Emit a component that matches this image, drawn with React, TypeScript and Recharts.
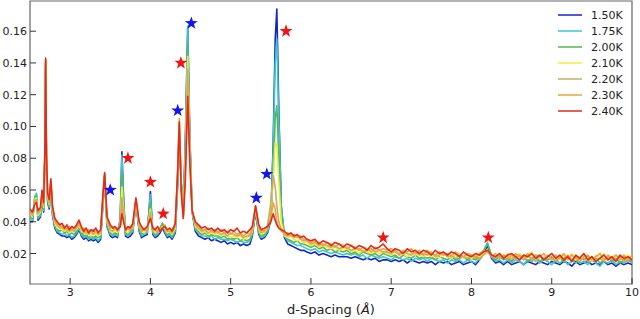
import React from "react"
import {
  ComposedChart,
  Line,
  Scatter,
  XAxis,
  YAxis,
  ReferenceArea,
  Label,
} from "recharts"

// d-spacing (Å) sample positions
const dSpacing = [
  2.5, 2.53, 2.56, 2.58, 2.6, 2.63, 2.65, 2.67, 2.685, 2.695,
  2.705, 2.72, 2.74, 2.76, 2.78, 2.81, 2.84, 2.87, 2.9, 2.93,
  2.96, 2.99, 3.02, 3.05, 3.08, 3.11, 3.14, 3.17, 3.2, 3.23,
  3.26, 3.29, 3.32, 3.35, 3.38, 3.41, 3.43, 3.46, 3.5, 3.53,
  3.56, 3.59, 3.625, 3.645, 3.665, 3.69, 3.72, 3.75, 3.78, 3.82,
  3.86, 3.89, 3.92, 3.96, 4.0, 4.03, 4.06, 4.09, 4.12, 4.15,
  4.18, 4.21, 4.24, 4.27, 4.31, 4.34, 4.36, 4.385, 4.41, 4.435,
  4.465, 4.49, 4.52, 4.56, 4.6, 4.64, 4.68, 4.72, 4.76, 4.8,
  4.84, 4.88, 4.92, 4.96, 5.0, 5.04, 5.08, 5.12, 5.16, 5.2,
  5.24, 5.27, 5.31, 5.35, 5.38, 5.42, 5.46, 5.5, 5.53, 5.555,
  5.575, 5.6, 5.63, 5.67, 5.71, 5.75, 5.79, 5.83, 5.87, 5.91,
  5.95, 6.0, 6.05, 6.1, 6.15, 6.2, 6.25, 6.3, 6.35, 6.4,
  6.45, 6.5, 6.55, 6.6, 6.65, 6.7, 6.75, 6.8, 6.85, 6.9,
  6.95, 7.0, 7.05, 7.1, 7.15, 7.2, 7.25, 7.3, 7.35, 7.4,
  7.45, 7.5, 7.55, 7.6, 7.65, 7.7, 7.75, 7.8, 7.85, 7.9,
  7.95, 8.0, 8.05, 8.1, 8.15, 8.2, 8.25, 8.3, 8.35, 8.4,
  8.45, 8.5, 8.55, 8.6, 8.65, 8.7, 8.75, 8.8, 8.85, 8.9,
  8.95, 9.0, 9.05, 9.1, 9.15, 9.2, 9.25, 9.3, 9.35, 9.4,
  9.45, 9.5, 9.55, 9.6, 9.65, 9.7, 9.75, 9.8, 9.85, 9.9,
  9.95, 10.0,
]

const t150 = [
  0.040, 0.040, 0.055, 0.057, 0.041, 0.043, 0.054, 0.046, 0.078, 0.138,
  0.075, 0.052, 0.048, 0.063, 0.044, 0.036, 0.033, 0.032, 0.031, 0.031,
  0.030, 0.031, 0.029, 0.030, 0.032, 0.035, 0.031, 0.029, 0.030, 0.028,
  0.029, 0.028, 0.029, 0.027, 0.029, 0.052, 0.068, 0.037, 0.031, 0.030,
  0.031, 0.030, 0.043, 0.084, 0.056, 0.031, 0.030, 0.031, 0.033, 0.052,
  0.034, 0.030, 0.031, 0.032, 0.059, 0.032, 0.030, 0.031, 0.033, 0.036,
  0.033, 0.030, 0.031, 0.029, 0.033, 0.064, 0.092, 0.064, 0.048, 0.090,
  0.162, 0.096, 0.046, 0.034, 0.031, 0.030, 0.029, 0.030, 0.028, 0.029,
  0.028, 0.027, 0.028, 0.026, 0.027, 0.026, 0.027, 0.025, 0.026, 0.025,
  0.026, 0.031, 0.046, 0.032, 0.029, 0.030, 0.033, 0.041, 0.090, 0.155,
  0.174, 0.110, 0.050, 0.030, 0.026, 0.025, 0.024, 0.023, 0.022, 0.022,
  0.021, 0.020, 0.021, 0.019, 0.020, 0.019, 0.018, 0.019, 0.018, 0.018,
  0.018, 0.017, 0.018, 0.017, 0.016, 0.017, 0.016, 0.017, 0.015, 0.016,
  0.016, 0.015, 0.016, 0.015, 0.016, 0.014, 0.016, 0.015, 0.014, 0.015,
  0.014, 0.015, 0.013, 0.015, 0.014, 0.015, 0.013, 0.014, 0.015, 0.013,
  0.014, 0.015, 0.013, 0.016, 0.020, 0.025, 0.017, 0.014, 0.015, 0.013,
  0.015, 0.013, 0.014, 0.015, 0.013, 0.015, 0.014, 0.013, 0.015, 0.014,
  0.013, 0.015, 0.014, 0.013, 0.015, 0.014, 0.012, 0.015, 0.013, 0.014,
  0.015, 0.013, 0.014, 0.013, 0.015, 0.013, 0.014, 0.012, 0.014, 0.013,
  0.014, 0.013,
]

const t175 = [
  0.042, 0.041, 0.056, 0.058, 0.042, 0.044, 0.055, 0.047, 0.079, 0.140,
  0.076, 0.053, 0.049, 0.064, 0.045, 0.037, 0.034, 0.033, 0.032, 0.033,
  0.031, 0.032, 0.030, 0.031, 0.033, 0.036, 0.032, 0.030, 0.031, 0.029,
  0.030, 0.029, 0.030, 0.028, 0.030, 0.053, 0.068, 0.038, 0.032, 0.031,
  0.032, 0.031, 0.042, 0.082, 0.055, 0.032, 0.031, 0.033, 0.034, 0.052,
  0.035, 0.031, 0.032, 0.033, 0.057, 0.033, 0.031, 0.032, 0.036, 0.039,
  0.034, 0.031, 0.032, 0.030, 0.034, 0.066, 0.095, 0.064, 0.047, 0.088,
  0.163, 0.095, 0.047, 0.035, 0.033, 0.031, 0.031, 0.030, 0.031, 0.029,
  0.030, 0.029, 0.029, 0.028, 0.029, 0.028, 0.027, 0.028, 0.027, 0.027,
  0.028, 0.032, 0.047, 0.033, 0.030, 0.031, 0.034, 0.042, 0.085, 0.140,
  0.155, 0.105, 0.050, 0.031, 0.028, 0.027, 0.026, 0.025, 0.025, 0.024,
  0.023, 0.022, 0.023, 0.021, 0.022, 0.021, 0.020, 0.021, 0.020, 0.019,
  0.020, 0.019, 0.020, 0.018, 0.019, 0.017, 0.019, 0.018, 0.017, 0.018,
  0.017, 0.016, 0.018, 0.017, 0.016, 0.017, 0.015, 0.017, 0.016, 0.017,
  0.015, 0.017, 0.016, 0.015, 0.016, 0.014, 0.016, 0.015, 0.016, 0.014,
  0.016, 0.015, 0.014, 0.017, 0.021, 0.027, 0.018, 0.015, 0.016, 0.014,
  0.016, 0.014, 0.016, 0.015, 0.013, 0.016, 0.015, 0.017, 0.014, 0.016,
  0.015, 0.013, 0.016, 0.014, 0.016, 0.013, 0.015, 0.016, 0.014, 0.015,
  0.013, 0.016, 0.014, 0.012, 0.015, 0.014, 0.016, 0.013, 0.015, 0.014,
  0.016, 0.014,
]

const t200 = [
  0.044, 0.042, 0.055, 0.056, 0.043, 0.045, 0.056, 0.048, 0.080, 0.140,
  0.077, 0.054, 0.050, 0.064, 0.046, 0.038, 0.035, 0.034, 0.035, 0.033,
  0.034, 0.032, 0.033, 0.032, 0.034, 0.037, 0.034, 0.031, 0.032, 0.030,
  0.031, 0.030, 0.031, 0.030, 0.031, 0.054, 0.069, 0.039, 0.033, 0.032,
  0.033, 0.032, 0.040, 0.072, 0.052, 0.033, 0.032, 0.034, 0.035, 0.053,
  0.036, 0.032, 0.033, 0.034, 0.052, 0.034, 0.032, 0.033, 0.036, 0.039,
  0.035, 0.032, 0.033, 0.031, 0.035, 0.068, 0.098, 0.063, 0.046, 0.082,
  0.152, 0.092, 0.047, 0.036, 0.034, 0.032, 0.033, 0.031, 0.032, 0.031,
  0.031, 0.030, 0.031, 0.029, 0.030, 0.029, 0.030, 0.028, 0.029, 0.028,
  0.029, 0.033, 0.048, 0.034, 0.031, 0.032, 0.035, 0.045, 0.070, 0.105,
  0.113, 0.080, 0.045, 0.031, 0.029, 0.028, 0.027, 0.028, 0.026, 0.026,
  0.025, 0.024, 0.025, 0.023, 0.024, 0.022, 0.023, 0.021, 0.022, 0.021,
  0.022, 0.020, 0.021, 0.019, 0.021, 0.020, 0.019, 0.020, 0.018, 0.020,
  0.019, 0.018, 0.019, 0.017, 0.019, 0.018, 0.017, 0.019, 0.017, 0.018,
  0.017, 0.018, 0.016, 0.018, 0.017, 0.016, 0.018, 0.016, 0.017, 0.018,
  0.016, 0.017, 0.016, 0.018, 0.022, 0.026, 0.019, 0.016, 0.018, 0.016,
  0.017, 0.015, 0.018, 0.016, 0.018, 0.015, 0.017, 0.019, 0.015, 0.017,
  0.016, 0.018, 0.015, 0.017, 0.015, 0.018, 0.016, 0.014, 0.017, 0.016,
  0.018, 0.015, 0.017, 0.014, 0.016, 0.018, 0.015, 0.017, 0.014, 0.016,
  0.017, 0.015,
]

const t210 = [
  0.045, 0.043, 0.054, 0.055, 0.044, 0.046, 0.057, 0.049, 0.081, 0.141,
  0.078, 0.055, 0.051, 0.065, 0.047, 0.039, 0.036, 0.037, 0.035, 0.034,
  0.035, 0.033, 0.034, 0.035, 0.035, 0.038, 0.034, 0.033, 0.032, 0.033,
  0.031, 0.033, 0.032, 0.031, 0.032, 0.055, 0.069, 0.040, 0.034, 0.033,
  0.035, 0.033, 0.038, 0.062, 0.048, 0.034, 0.033, 0.035, 0.036, 0.053,
  0.037, 0.034, 0.033, 0.035, 0.048, 0.035, 0.033, 0.034, 0.035, 0.037,
  0.036, 0.033, 0.034, 0.032, 0.036, 0.070, 0.100, 0.062, 0.045, 0.078,
  0.144, 0.088, 0.047, 0.037, 0.035, 0.033, 0.034, 0.032, 0.033, 0.032,
  0.033, 0.031, 0.032, 0.031, 0.030, 0.031, 0.030, 0.031, 0.029, 0.030,
  0.031, 0.034, 0.049, 0.035, 0.032, 0.033, 0.036, 0.050, 0.065, 0.090,
  0.088, 0.065, 0.040, 0.031, 0.030, 0.031, 0.029, 0.028, 0.029, 0.027,
  0.027, 0.025, 0.026, 0.024, 0.025, 0.024, 0.023, 0.024, 0.022, 0.023,
  0.023, 0.021, 0.022, 0.020, 0.022, 0.021, 0.020, 0.022, 0.020, 0.021,
  0.020, 0.019, 0.021, 0.019, 0.020, 0.018, 0.020, 0.019, 0.021, 0.018,
  0.020, 0.018, 0.019, 0.017, 0.020, 0.018, 0.017, 0.019, 0.020, 0.017,
  0.019, 0.017, 0.019, 0.018, 0.020, 0.022, 0.019, 0.018, 0.020, 0.017,
  0.020, 0.017, 0.018, 0.020, 0.017, 0.019, 0.021, 0.017, 0.019, 0.016,
  0.018, 0.020, 0.017, 0.016, 0.019, 0.017, 0.020, 0.016, 0.018, 0.019,
  0.017, 0.015, 0.019, 0.017, 0.020, 0.016, 0.018, 0.019, 0.016, 0.018,
  0.019, 0.017,
]

const t220 = [
  0.046, 0.044, 0.053, 0.054, 0.045, 0.047, 0.058, 0.050, 0.082, 0.142,
  0.079, 0.056, 0.052, 0.065, 0.048, 0.040, 0.038, 0.036, 0.037, 0.035,
  0.036, 0.034, 0.035, 0.034, 0.036, 0.039, 0.036, 0.033, 0.034, 0.032,
  0.034, 0.032, 0.034, 0.032, 0.033, 0.056, 0.070, 0.041, 0.035, 0.034,
  0.036, 0.034, 0.037, 0.055, 0.045, 0.034, 0.036, 0.034, 0.037, 0.054,
  0.038, 0.034, 0.035, 0.034, 0.046, 0.034, 0.035, 0.033, 0.034, 0.036,
  0.037, 0.034, 0.034, 0.033, 0.037, 0.072, 0.102, 0.061, 0.044, 0.074,
  0.136, 0.085, 0.047, 0.038, 0.036, 0.034, 0.035, 0.033, 0.034, 0.033,
  0.034, 0.032, 0.033, 0.031, 0.033, 0.032, 0.031, 0.032, 0.030, 0.031,
  0.031, 0.035, 0.049, 0.036, 0.033, 0.034, 0.038, 0.052, 0.069, 0.062,
  0.050, 0.040, 0.035, 0.032, 0.031, 0.032, 0.030, 0.031, 0.029, 0.028,
  0.028, 0.026, 0.027, 0.025, 0.026, 0.025, 0.024, 0.025, 0.023, 0.024,
  0.024, 0.022, 0.023, 0.023, 0.021, 0.022, 0.023, 0.021, 0.022, 0.021,
  0.021, 0.020, 0.022, 0.019, 0.021, 0.020, 0.019, 0.021, 0.019, 0.020,
  0.019, 0.021, 0.018, 0.019, 0.020, 0.018, 0.019, 0.017, 0.019, 0.018,
  0.017, 0.019, 0.018, 0.016, 0.019, 0.021, 0.019, 0.017, 0.019, 0.018,
  0.016, 0.019, 0.017, 0.019, 0.016, 0.018, 0.017, 0.015, 0.018, 0.017,
  0.019, 0.017, 0.015, 0.018, 0.017, 0.019, 0.016, 0.018, 0.016, 0.017,
  0.015, 0.018, 0.016, 0.017, 0.015, 0.019, 0.017, 0.016, 0.018, 0.015,
  0.017, 0.016,
]

const t230 = [
  0.047, 0.045, 0.052, 0.053, 0.046, 0.048, 0.059, 0.051, 0.083, 0.142,
  0.080, 0.057, 0.053, 0.066, 0.049, 0.041, 0.038, 0.039, 0.036, 0.037,
  0.035, 0.037, 0.035, 0.036, 0.037, 0.040, 0.035, 0.036, 0.033, 0.035,
  0.033, 0.035, 0.033, 0.034, 0.034, 0.057, 0.070, 0.042, 0.036, 0.037,
  0.035, 0.036, 0.037, 0.050, 0.043, 0.036, 0.035, 0.037, 0.038, 0.054,
  0.039, 0.035, 0.036, 0.035, 0.044, 0.035, 0.036, 0.034, 0.035, 0.036,
  0.038, 0.034, 0.035, 0.035, 0.038, 0.073, 0.105, 0.060, 0.043, 0.070,
  0.128, 0.082, 0.047, 0.039, 0.037, 0.035, 0.035, 0.036, 0.034, 0.035,
  0.033, 0.035, 0.033, 0.034, 0.032, 0.034, 0.032, 0.033, 0.031, 0.033,
  0.032, 0.036, 0.050, 0.037, 0.034, 0.035, 0.036, 0.042, 0.052, 0.048,
  0.040, 0.036, 0.034, 0.033, 0.033, 0.031, 0.032, 0.030, 0.031, 0.029,
  0.029, 0.027, 0.028, 0.027, 0.025, 0.027, 0.026, 0.024, 0.026, 0.025,
  0.023, 0.025, 0.024, 0.022, 0.024, 0.023, 0.021, 0.024, 0.022, 0.023,
  0.022, 0.023, 0.021, 0.020, 0.022, 0.021, 0.023, 0.020, 0.022, 0.019,
  0.022, 0.020, 0.019, 0.021, 0.019, 0.020, 0.018, 0.021, 0.019, 0.018,
  0.020, 0.019, 0.017, 0.020, 0.022, 0.021, 0.018, 0.020, 0.017, 0.019,
  0.018, 0.016, 0.020, 0.018, 0.017, 0.020, 0.016, 0.019, 0.018, 0.020,
  0.017, 0.016, 0.019, 0.017, 0.020, 0.016, 0.019, 0.017, 0.015, 0.018,
  0.019, 0.016, 0.018, 0.020, 0.016, 0.018, 0.016, 0.019, 0.016, 0.019,
  0.015, 0.019,
]

const t240 = [
  0.048, 0.046, 0.051, 0.052, 0.047, 0.049, 0.060, 0.052, 0.085, 0.143,
  0.082, 0.058, 0.054, 0.067, 0.050, 0.042, 0.040, 0.038, 0.039, 0.036,
  0.038, 0.035, 0.037, 0.036, 0.038, 0.041, 0.037, 0.034, 0.036, 0.033,
  0.035, 0.034, 0.036, 0.033, 0.035, 0.058, 0.071, 0.043, 0.038, 0.036,
  0.037, 0.035, 0.037, 0.045, 0.040, 0.035, 0.037, 0.036, 0.039, 0.055,
  0.040, 0.037, 0.035, 0.037, 0.042, 0.036, 0.035, 0.037, 0.034, 0.036,
  0.037, 0.035, 0.036, 0.034, 0.039, 0.072, 0.103, 0.058, 0.042, 0.066,
  0.119, 0.078, 0.047, 0.040, 0.038, 0.036, 0.037, 0.035, 0.036, 0.034,
  0.036, 0.034, 0.035, 0.033, 0.035, 0.034, 0.036, 0.033, 0.034, 0.033,
  0.035, 0.037, 0.050, 0.038, 0.035, 0.036, 0.037, 0.040, 0.045, 0.041,
  0.038, 0.036, 0.035, 0.034, 0.032, 0.033, 0.031, 0.032, 0.030, 0.031,
  0.029, 0.028, 0.029, 0.026, 0.028, 0.027, 0.025, 0.027, 0.026, 0.024,
  0.026, 0.025, 0.023, 0.025, 0.024, 0.022, 0.025, 0.023, 0.024, 0.026,
  0.023, 0.021, 0.023, 0.022, 0.020, 0.023, 0.021, 0.022, 0.020, 0.022,
  0.021, 0.019, 0.022, 0.020, 0.021, 0.019, 0.021, 0.020, 0.018, 0.021,
  0.019, 0.018, 0.020, 0.019, 0.021, 0.022, 0.019, 0.018, 0.020, 0.017,
  0.019, 0.020, 0.018, 0.016, 0.019, 0.018, 0.020, 0.017, 0.019, 0.016,
  0.018, 0.020, 0.017, 0.019, 0.016, 0.018, 0.015, 0.019, 0.017, 0.020,
  0.016, 0.018, 0.015, 0.017, 0.019, 0.016, 0.018, 0.015, 0.019, 0.017,
  0.018, 0.016,
]

const series = [
  { key: "t150", label: "1.50K", color: "#1426c8", values: t150 },
  { key: "t175", label: "1.75K", color: "#3cc8d2", values: t175 },
  { key: "t200", label: "2.00K", color: "#55b955", values: t200 },
  { key: "t210", label: "2.10K", color: "#f0ec3c", values: t210 },
  { key: "t220", label: "2.20K", color: "#cbab68", values: t220 },
  { key: "t230", label: "2.30K", color: "#f2a23c", values: t230 },
  { key: "t240", label: "2.40K", color: "#e22a1e", values: t240 },
]

// star markers (peak assignments)
const blueStarD = [3.5, 4.34, 4.51, 5.32, 5.45]
const blueStarV = [0.06, 0.11, 0.165, 0.055, 0.07]
const redStarD = [3.72, 4.0, 4.16, 4.38, 5.69, 6.9, 8.21]
const redStarV = [0.08, 0.065, 0.045, 0.14, 0.16, 0.03, 0.03]

const xTicks = [3, 4, 5, 6, 7, 8, 9, 10]
const yTicks = [0.02, 0.04, 0.06, 0.08, 0.1, 0.12, 0.14, 0.16]

const chartData = dSpacing.map((d, i) => {
  const row: Record<string, number> = { d }
  series.forEach((s) => {
    row[s.key] = s.values[i]
  })
  return row
})

const blueStars = blueStarD.map((d, i) => ({ d, v: blueStarV[i] }))
const redStars = redStarD.map((d, i) => ({ d, v: redStarV[i] }))

const FONT = "DejaVu Sans"

const starPoints = (cx: number, cy: number, r: number) => {
  const pts: string[] = []
  for (let k = 0; k < 10; k++) {
    const rad = k % 2 === 0 ? r : r * 0.4
    const a = -Math.PI / 2 + (k * Math.PI) / 5
    pts.push(`${cx + rad * Math.cos(a)},${cy + rad * Math.sin(a)}`)
  }
  return pts.join(" ")
}

const makeStar = (color: string) => (props: any) => {
  const { cx, cy } = props
  return <polygon points={starPoints(cx, cy, 6.8)} fill={color} stroke="none" />
}

const YTick = (props: any) => {
  const { x, y, payload } = props
  return (
    <g>
      <line x1={x} x2={x + 6} y1={y} y2={y} stroke="#333" />
      <text x={x - 3} y={y} dy={4} textAnchor="end" fontSize={11} fill="#222" fontFamily={FONT}>
        {Number(payload.value).toFixed(2)}
      </text>
    </g>
  )
}

const XTick = (props: any) => {
  const { x, y, payload } = props
  return (
    <g>
      <line x1={x} x2={x} y1={y} y2={y - 6} stroke="#333" />
      <text x={x} y={y + 11.5} textAnchor="middle" fontSize={11} fill="#222" fontFamily={FONT}>
        {payload.value}
      </text>
    </g>
  )
}

const XLabel = (props: any) => {
  const { viewBox } = props
  const cx = viewBox.x + viewBox.width / 2
  return (
    <text x={cx} y={314} textAnchor="middle" fontSize={13} fill="#222" fontFamily={FONT}>
      d-Spacing (<tspan fontStyle="italic">Å</tspan>)
    </text>
  )
}

const LegendBox = () => (
  <svg
    width={84}
    height={114}
    style={{ position: "absolute", left: 558, top: 7, pointerEvents: "none" }}
  >
    {series.map((s, i) => (
      <g key={s.key}>
        <line x1={0} x2={24} y1={8 + i * 16} y2={8 + i * 16} stroke={s.color} strokeWidth={1.5} />
        <text x={33} y={12 + i * 16} fontSize={11} fill="#222" fontFamily={FONT}>
          {s.label}
        </text>
      </g>
    ))}
  </svg>
)

export default function App() {
  return (
    <div style={{ position: "absolute", left: 0, top: 0, width: 640, height: 319, background: "white" }}>
      <ComposedChart
        width={640}
        height={319}
        data={chartData}
        margin={{ top: 1, right: 8, bottom: 0, left: 0 }}
      >
        <XAxis
          dataKey="d"
          type="number"
          domain={[2.5, 10]}
          ticks={xTicks}
          interval={0}
          allowDataOverflow
          height={35}
          tickSize={0}
          tickMargin={0}
          axisLine={false}
          tickLine={false}
          tick={<XTick />}
        >
          <Label content={<XLabel />} />
        </XAxis>
        <YAxis
          type="number"
          domain={[0.0008, 0.179]}
          ticks={yTicks}
          interval={0}
          allowDataOverflow
          width={30}
          tickSize={0}
          tickMargin={0}
          axisLine={false}
          tickLine={false}
          tick={<YTick />}
        />
        <ReferenceArea
          x1={2.5}
          x2={10}
          y1={0.0008}
          y2={0.179}
          fill="none"
          fillOpacity={0}
          stroke="#666"
          strokeWidth={1.2}
        />
        {series.map((s) => (
          <Line
            key={s.key}
            dataKey={s.key}
            type="linear"
            stroke={s.color}
            strokeWidth={1.6}
            strokeLinejoin="round"
            dot={false}
            activeDot={false}
            isAnimationActive={false}
          />
        ))}
        <Scatter data={blueStars} dataKey="v" fill="#1414f0" shape={makeStar("#1414f0")} isAnimationActive={false} />
        <Scatter data={redStars} dataKey="v" fill="#f01414" shape={makeStar("#f01414")} isAnimationActive={false} />
      </ComposedChart>
      <LegendBox />
    </div>
  )
}
